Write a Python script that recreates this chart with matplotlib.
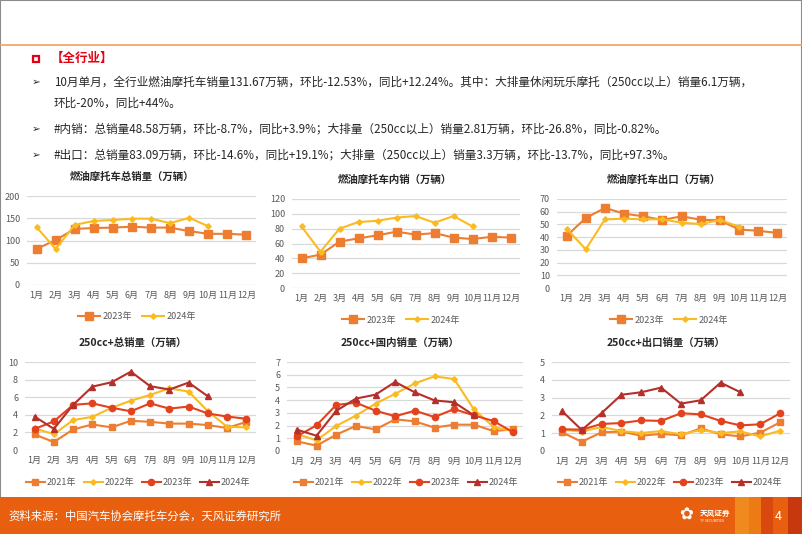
import matplotlib
matplotlib.use("Agg")
import matplotlib.pyplot as plt
from matplotlib.patches import Rectangle
from matplotlib.lines import Line2D
import numpy as np

plt.rcParams['font.family'] = ['Noto Sans CJK SC', 'DejaVu Sans']

W, H = 802, 534

months = [f"{i}月" for i in range(1, 13)]

# ---- fuel motorcycles (万辆) ----
total_2023 = [81, 101, 126, 128, 129, 131, 129, 129, 121, 115, 115, 113]
total_2024 = [130, 81, 135, 144, 146, 149, 149, 139, 151, 132]

domestic_2023 = [40, 45, 62.5, 67, 71, 76, 72, 74, 68, 66, 69, 68]
domestic_2024 = [83, 49, 80, 89, 90.6, 95, 97, 88, 97, 83]

export_2023 = [41, 55, 63, 58.5, 56.4, 53.5, 56.4, 53.7, 53.2, 46, 45, 43.3]
export_2024 = [46.7, 30.4, 54, 54.5, 54, 54, 51.4, 50.3, 53.5, 48.2]

# ---- 250cc+ (万辆) ----
big_total_2021 = [1.77, 0.9, 2.34, 2.9, 2.57, 3.32, 3.2, 3.0, 3.0, 2.83, 2.5, 3.2]
big_total_2022 = [2.45, 1.8, 3.4, 3.77, 4.8, 5.6, 6.26, 7.0, 6.64, 4.4, 2.64, 2.57]
big_total_2023 = [2.4, 3.25, 5.13, 5.3, 4.8, 4.4, 5.3, 4.7, 4.94, 4.15, 3.8, 3.55]
big_total_2024 = [3.8, 2.4, 5.13, 7.2, 7.7, 8.9, 7.25, 6.87, 7.66, 6.1]

big_dom_2021 = [0.76, 0.42, 1.28, 1.97, 1.7, 2.49, 2.33, 1.84, 2.07, 2.07, 1.57, 1.7]
big_dom_2022 = [1.34, 0.84, 1.97, 2.78, 3.72, 4.5, 5.32, 5.87, 5.66, 3.28, 1.89, 1.55]
big_dom_2023 = [1.15, 2.02, 3.62, 3.8, 3.17, 2.73, 3.17, 2.67, 3.3, 2.8, 2.36, 1.47]
big_dom_2024 = [1.68, 1.2, 3.15, 4.12, 4.43, 5.43, 4.61, 3.98, 3.83, 2.81]

big_exp_2021 = [1.05, 0.52, 1.05, 1.09, 0.86, 0.96, 0.88, 1.27, 0.94, 0.82, 1.03, 1.61]
big_exp_2022 = [1.2, 1.09, 1.35, 1.12, 1.01, 1.12, 0.94, 1.18, 1.01, 1.1, 0.82, 1.14]
big_exp_2023 = [1.22, 1.2, 1.52, 1.57, 1.72, 1.69, 2.12, 2.06, 1.69, 1.44, 1.5, 2.12]
big_exp_2024 = [2.25, 1.18, 2.13, 3.16, 3.3, 3.56, 2.66, 2.85, 3.84, 3.3]

ORANGE = '#ED7D31'
GOLD = '#FABB22'
RED = '#E3421F'
DARKRED = '#B5302A'
TXT = '#595959'

STY = {
    'sq_big': dict(color=ORANGE, marker='s', ms=5.5, lw=1.5),
    'dia': dict(color=GOLD, marker='D', ms=2.8, lw=1.5),
    'sq': dict(color=ORANGE, marker='s', ms=4.8, lw=1.5),
    'circ': dict(color=RED, marker='o', ms=4.5, lw=1.5),
    'tri': dict(color=DARKRED, marker='^', ms=4.2, lw=1.5),
}

fig = plt.figure(figsize=(W / 100, H / 100), dpi=100)


def fx(x):
    return x / W


def fy(y):
    return 1 - y / H


def draw_chart(box, title, title_xy, series, ymax, ystep, legend_xy, compact=False):
    x0, x1, ytop, ybot = box
    ax = fig.add_axes([fx(x0), fy(ybot), (x1 - x0) / W, (ybot - ytop) / H])
    xs = np.arange(1, 13)
    for label, vals, sty in series:
        ax.plot(xs[:len(vals)], vals, label=label, **STY[sty])
    ax.set_xlim(0.5, 12.5)
    ax.set_ylim(0, ymax)
    ax.set_yticks(np.arange(0, ymax + ystep / 2, ystep))
    ax.set_xticks(xs, months)
    ax.grid(axis='y', color='#d9d9d9', lw=0.9)
    ax.set_axisbelow(True)
    for s in ax.spines.values():
        s.set_visible(False)
    ax.tick_params(length=0, labelsize=6.5, colors=TXT, pad=5)
    ax.tick_params(axis='x', pad=4)
    fig.text(fx(title_xy[0]), fy(title_xy[1]), title, ha='center', va='center',
             fontsize=7.5, fontweight='bold', color='#262626')
    h, l = ax.get_legend_handles_labels()
    leg = fig.legend(h, l, loc='center', bbox_to_anchor=(fx(legend_xy[0]), fy(legend_xy[1])),
                     ncol=len(h), frameon=False, fontsize=6.5,
                     handlelength=2.1 if compact else 2.4,
                     handletextpad=0.25, columnspacing=0.8 if compact else 1.2,
                     borderpad=0)
    for t in leg.get_texts():
        t.set_color(TXT)
    return ax


# top row
draw_chart((27, 256, 196, 285), "燃油摩托车总销量（万辆）", (132, 177),
           [("2023年", total_2023, 'sq_big'), ("2024年", total_2024, 'dia')],
           200, 50, (137, 317))
draw_chart((292, 520, 199, 288), "燃油摩托车内销（万辆）", (395, 180),
           [("2023年", domestic_2023, 'sq_big'), ("2024年", domestic_2024, 'dia')],
           120, 20, (401, 320))
draw_chart((557, 787, 199, 288), "燃油摩托车出口（万辆）", (664, 180),
           [("2023年", export_2023, 'sq_big'), ("2024年", export_2024, 'dia')],
           70, 10, (669, 320))

# bottom row
draw_chart((25, 256, 362, 450), "250cc+总销量（万辆）", (133, 343),
           [("2021年", big_total_2021, 'sq'), ("2022年", big_total_2022, 'dia'),
            ("2023年", big_total_2023, 'circ'), ("2024年", big_total_2024, 'tri')],
           10, 2, (138, 483), compact=True)
draw_chart((287, 523, 362, 451), "250cc+国内销量（万辆）", (400, 343),
           [("2021年", big_dom_2021, 'sq'), ("2022年", big_dom_2022, 'dia'),
            ("2023年", big_dom_2023, 'circ'), ("2024年", big_dom_2024, 'tri')],
           7, 1, (406, 483), compact=True)
draw_chart((552, 790, 362, 451), "250cc+出口销量（万辆）", (666, 343),
           [("2021年", big_exp_2021, 'sq'), ("2022年", big_exp_2022, 'dia'),
            ("2023年", big_exp_2023, 'circ'), ("2024年", big_exp_2024, 'tri')],
           5, 1, (670, 483), compact=True)

# ---- slide decorations ----
fig.add_artist(Rectangle((0, 0), 1, 1, transform=fig.transFigure, fill=False,
                         edgecolor='#8c8c8c', lw=1.5))
fig.add_artist(Line2D([0, 1], [fy(45), fy(45)], transform=fig.transFigure,
                      color='#F0A060', lw=1.2))

RED_T = '#E60012'
fig.add_artist(Rectangle((fx(33), fy(62)), 6 / W, 6 / H, transform=fig.transFigure,
                         fill=False, edgecolor=RED_T, lw=1.6))
fig.text(fx(51), fy(58), "【全行业】", color=RED_T, fontsize=9, fontweight='bold', va='center')

body = [
    (82, "10月单月，全行业燃油摩托车销量131.67万辆，环比-12.53%，同比+12.24%。其中：大排量休闲玩乐摩托（250cc以上）销量6.1万辆，", True),
    (103, "环比-20%，同比+44%。", False),
    (129, "#内销：总销量48.58万辆，环比-8.7%，同比+3.9%；大排量（250cc以上）销量2.81万辆，环比-26.8%，同比-0.82%。", True),
    (155, "#出口：总销量83.09万辆，环比-14.6%，同比+19.1%；大排量（250cc以上）销量3.3万辆，环比-13.7%，同比+97.3%。", True),
]
for y, s, bullet in body:
    if bullet:
        fig.text(fx(32), fy(y), "➢", fontsize=7.5, va='center', color='#262626',
                 family=['DejaVu Sans'])
    fig.text(fx(54), fy(y), s, fontsize=8.4, va='center', color='#262626')

# footer band
fig.add_artist(Rectangle((0, 0), 1, fy(497), transform=fig.transFigure,
                         facecolor='#E8600F', edgecolor='none'))
for x0, w, c in [(735, 14, '#F08A1E'), (749, 12, '#EE7A15'), (761, 12, '#D9480E'),
                 (773, 15, '#E8600F'), (788, 14, '#C8380E')]:
    fig.add_artist(Rectangle((fx(x0), 0), w / W, fy(497), transform=fig.transFigure,
                             facecolor=c, edgecolor='none'))
fig.text(fx(8), fy(516), "资料来源：中国汽车协会摩托车分会，天风证券研究所", color='white',
         fontsize=8.2, va='center')
fig.text(fx(700), fy(513), "天风证券", color='white', fontsize=5.5, va='center', fontweight='bold')
fig.text(fx(700), fy(521), "TF SECURITIES", color='white', fontsize=2.5, va='center')
fig.text(fx(686), fy(515), "✿", color='white', fontsize=12, ha='center', va='center',
         family=['DejaVu Sans'])
fig.text(fx(778), fy(516), "4", color='white', fontsize=9, ha='center', va='center')

fig.savefig("out.png", dpi=100)
